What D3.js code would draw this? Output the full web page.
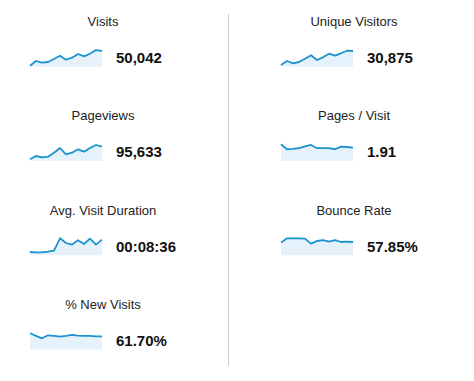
<!DOCTYPE html>
<html>
<head>
<meta charset="utf-8">
<script src="https://cdn.jsdelivr.net/npm/d3@7"></script>
<style>
  html, body { margin: 0; padding: 0; background: #fff; }
  svg { display: block; font-family: "Liberation Sans", Arial, sans-serif; }
</style>
</head>
<body>
<svg id="chart" width="474" height="381"></svg>
<script>
// Metric names, totals and the 13-point sparkline series
const titles = ["Visits", "Unique Visitors", "Pageviews", "Pages / Visit",
                "Avg. Visit Duration", "Bounce Rate", "% New Visits"];
const totals = ["50,042", "30,875", "95,633", "1.91", "00:08:36", "57.85%", "61.70%"];

const visits        = [3095, 3540, 3380, 3445, 3730, 4040, 3660, 3850, 4200, 3975, 4230, 4580, 4490];
const uniqueVisitors= [1948, 2180, 2047, 2122, 2313, 2510, 2238, 2394, 2603, 2487, 2626, 2776, 2759];
const pageviews     = [5858, 6553, 6279, 6405, 7247, 8237, 6910, 7247, 7963, 7458, 8237, 8868, 8510];
const pagesPerVisit = [2.09, 1.80, 1.82, 1.86, 1.97, 2.05, 1.86, 1.86, 1.87, 1.80, 1.95, 1.93, 1.89];
const avgDuration   = [373, 366, 366, 382, 404, 676, 572, 536, 632, 550, 669, 536, 647]; // seconds
const bounceRate    = [53.4, 64.7, 64.7, 64.7, 63.9, 50.8, 57.6, 60.2, 56.0, 60.2, 55.0, 56.0, 55.0];
const newVisits     = [69.2, 61.7, 54.7, 63.4, 61.7, 59.6, 61.7, 64.6, 62.5, 61.7, 61.7, 60.5, 60.5];

const seriesList = [visits, uniqueVisitors, pageviews, pagesPerVisit, avgDuration, bounceRate, newVisits];
// value domains of each sparkline's y scale
const domains = [[3000, 4800], [1850, 2950], [5500, 9500], [1.12, 2.22], [300, 720], [20, 70], [22, 77]];

const svg = d3.select("#chart");
const colW = 251, rowH = 94.3;

// divider
svg.append("line")
  .attr("x1", 228.5).attr("x2", 228.5)
  .attr("y1", 14).attr("y2", 366)
  .attr("stroke", "#cccccc").attr("stroke-width", 1);

titles.forEach((t, i) => {
  const col = i % 2, row = Math.floor(i / 2);
  const g = svg.append("g").attr("transform", `translate(${col * colW},${row * rowH})`);

  g.append("text")
    .attr("x", 103).attr("y", 26)
    .attr("text-anchor", "middle")
    .attr("font-size", 13)
    .attr("fill", "#222")
    .text(t);

  const data = seriesList[i];
  const x = d3.scaleLinear().domain([0, data.length - 1]).range([30, 102]);
  const y = d3.scaleLinear().domain(domains[i]).range([66.7, 47.7]);

  const area = d3.area()
    .x((d, j) => x(j))
    .y0(66.7)
    .y1(d => y(d));
  const line = d3.line()
    .x((d, j) => x(j))
    .y(d => y(d));

  g.append("path").datum(data)
    .attr("d", area)
    .attr("fill", "#e6f2fb");
  g.append("path").datum(data)
    .attr("d", line)
    .attr("fill", "none")
    .attr("stroke", "#1a93cf")
    .attr("stroke-width", 1.8)
    .attr("stroke-linejoin", "round");

  g.append("text")
    .attr("x", 116).attr("y", 63)
    .attr("font-size", 15)
    .attr("font-weight", "bold")
    .attr("fill", "#111")
    .text(totals[i]);
});
</script>
</body>
</html>
